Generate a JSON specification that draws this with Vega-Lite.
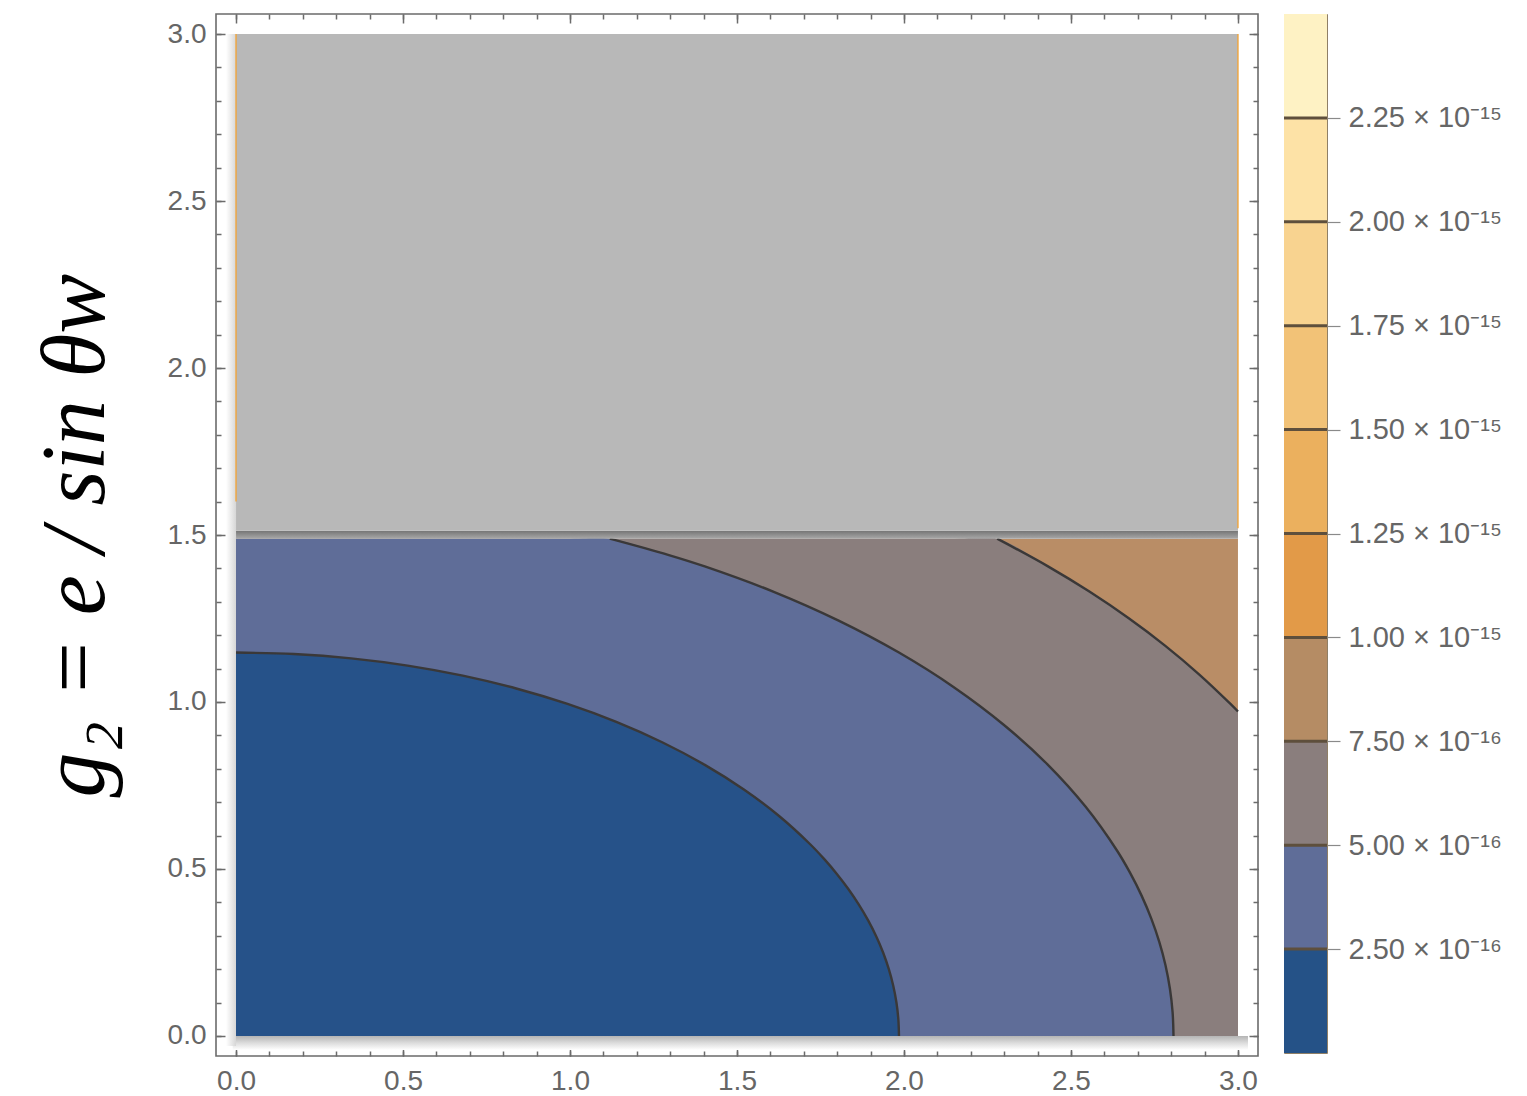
{
  "$schema": "https://vega.github.io/schema/vega-lite/v6.json",
  "background": "white",
  "padding": {"left": 30, "top": 12, "right": 0, "bottom": 0},
  "spacing": 22,
  "config": {
    "font": "Liberation Sans",
    "axis": {"labelFont": "Liberation Sans", "labelFontSize": 28, "labelColor": "#666666", "tickColor": "#6b6b6b", "tickWidth": 1.5, "domain": false, "grid": false}
  },
  "datasets": {
    "rects": [
      {"part": "shadowBottom", "x0": -0.01, "x1": 3.03, "y0": -0.042, "y1": 0},
      {"part": "shadowLeft", "x0": -0.03, "x1": 0, "y0": -0.03, "y1": 3.0},
      {"part": "band3", "x0": 0, "x1": 3, "y0": 0, "y1": 1.489},
      {"part": "gap", "x0": 0, "x1": 3, "y0": 1.489, "y1": 1.513},
      {"part": "missing", "x0": 0, "x1": 3, "y0": 1.513, "y1": 3.0}
    ],
    "edges": [
      {"x": 0, "y0": 1.6, "y1": 3.0},
      {"x": 3, "y0": 1.52, "y1": 3.0}
    ],
    "contours": [
      {"level": 1, "x": 0, "y": 1.148, "on": true},
      {"level": 1, "x": 0.173, "y": 1.1436, "on": true},
      {"level": 1, "x": 0.3447, "y": 1.1306, "on": true},
      {"level": 1, "x": 0.5138, "y": 1.1089, "on": true},
      {"level": 1, "x": 0.6789, "y": 1.0788, "on": true},
      {"level": 1, "x": 0.8389, "y": 1.0404, "on": true},
      {"level": 1, "x": 0.9925, "y": 0.9942, "on": true},
      {"level": 1, "x": 1.1386, "y": 0.9404, "on": true},
      {"level": 1, "x": 1.2759, "y": 0.8794, "on": true},
      {"level": 1, "x": 1.4036, "y": 0.8118, "on": true},
      {"level": 1, "x": 1.5206, "y": 0.7379, "on": true},
      {"level": 1, "x": 1.626, "y": 0.6585, "on": true},
      {"level": 1, "x": 1.7191, "y": 0.574, "on": true},
      {"level": 1, "x": 1.7607, "y": 0.5301, "on": true},
      {"level": 1, "x": 1.799, "y": 0.4852, "on": true},
      {"level": 1, "x": 1.8339, "y": 0.4393, "on": true},
      {"level": 1, "x": 1.8653, "y": 0.3926, "on": true},
      {"level": 1, "x": 1.8931, "y": 0.3452, "on": true},
      {"level": 1, "x": 1.9174, "y": 0.2971, "on": true},
      {"level": 1, "x": 1.938, "y": 0.2485, "on": true},
      {"level": 1, "x": 1.9548, "y": 0.1993, "on": true},
      {"level": 1, "x": 1.968, "y": 0.1498, "on": true},
      {"level": 1, "x": 1.9774, "y": 0.1001, "on": true},
      {"level": 1, "x": 1.9831, "y": 0.0501, "on": true},
      {"level": 1, "x": 1.985, "y": 0, "on": true},
      {"level": 2, "x": 0, "y": 1.489, "on": false},
      {"level": 2, "x": 1.0, "y": 1.489, "on": false},
      {"level": 2, "x": 1.119, "y": 1.489, "on": true},
      {"level": 2, "x": 1.296, "y": 1.44, "on": true},
      {"level": 2, "x": 1.4035, "y": 1.406, "on": true},
      {"level": 2, "x": 1.61, "y": 1.3299, "on": true},
      {"level": 2, "x": 1.8043, "y": 1.2437, "on": true},
      {"level": 2, "x": 1.9849, "y": 1.148, "on": true},
      {"level": 2, "x": 2.1503, "y": 1.0436, "on": true},
      {"level": 2, "x": 2.2994, "y": 0.9312, "on": true},
      {"level": 2, "x": 2.431, "y": 0.8118, "on": true},
      {"level": 2, "x": 2.544, "y": 0.6861, "on": true},
      {"level": 2, "x": 2.6377, "y": 0.5553, "on": true},
      {"level": 2, "x": 2.6771, "y": 0.4882, "on": true},
      {"level": 2, "x": 2.7114, "y": 0.4202, "on": true},
      {"level": 2, "x": 2.7405, "y": 0.3514, "on": true},
      {"level": 2, "x": 2.7644, "y": 0.2819, "on": true},
      {"level": 2, "x": 2.783, "y": 0.2119, "on": true},
      {"level": 2, "x": 2.7963, "y": 0.1415, "on": true},
      {"level": 2, "x": 2.8043, "y": 0.0708, "on": true},
      {"level": 2, "x": 2.807, "y": 0, "on": true},
      {"level": 3, "x": 0, "y": 1.489, "on": false},
      {"level": 3, "x": 2.15, "y": 1.489, "on": false},
      {"level": 3, "x": 2.279, "y": 1.489, "on": true},
      {"level": 3, "x": 2.4312, "y": 1.406, "on": true},
      {"level": 3, "x": 2.5551, "y": 1.3305, "on": true},
      {"level": 3, "x": 2.672, "y": 1.2513, "on": true},
      {"level": 3, "x": 2.7816, "y": 1.1688, "on": true},
      {"level": 3, "x": 2.8835, "y": 1.0829, "on": true},
      {"level": 3, "x": 2.9776, "y": 0.9942, "on": true},
      {"level": 3, "x": 3.0, "y": 0.9715, "on": true}
    ],
    "bands": [
      {"band": 0, "lo": 0, "hi": 2.5e-16},
      {"band": 1, "lo": 2.5e-16, "hi": 5e-16},
      {"band": 2, "lo": 5e-16, "hi": 7.5e-16},
      {"band": 3, "lo": 7.5e-16, "hi": 1e-15},
      {"band": 4, "lo": 1e-15, "hi": 1.25e-15},
      {"band": 5, "lo": 1.25e-15, "hi": 1.5e-15},
      {"band": 6, "lo": 1.5e-15, "hi": 1.75e-15},
      {"band": 7, "lo": 1.75e-15, "hi": 2e-15},
      {"band": 8, "lo": 2e-15, "hi": 2.25e-15},
      {"band": 9, "lo": 2.25e-15, "hi": 2.5e-15}
    ]
  },
  "hconcat": [
    {
      "width": 1042,
      "height": 1042,
      "view": {"stroke": "#6b6b6b", "strokeWidth": 1.6},
      "resolve": {"axis": {"x": "independent", "y": "independent"}},
      "layer": [
        {
          "data": {"name": "rects"},
          "transform": [{"filter": "datum.part === 'shadowBottom'"}],
          "mark": {"type": "rect", "color": {"gradient": "linear", "x1": 0, "y1": 0, "x2": 0, "y2": 1, "stops": [{"offset": 0, "color": "#b4b4b4"}, {"offset": 0.5, "color": "#dcdcdc"}, {"offset": 1, "color": "#ffffff"}]}},
          "encoding": {
            "x": {"field": "x0", "type": "quantitative", "scale": {"domain": [-0.06, 3.06], "nice": false, "zero": false}, "axis": null},
            "x2": {"field": "x1"},
            "y": {"field": "y0", "type": "quantitative", "scale": {"domain": [-0.06, 3.06], "nice": false, "zero": false}, "axis": null},
            "y2": {"field": "y1"}
          }
        },
        {
          "data": {"name": "rects"},
          "transform": [{"filter": "datum.part === 'shadowLeft'"}],
          "mark": {"type": "rect", "color": {"gradient": "linear", "x1": 0, "y1": 0, "x2": 1, "y2": 0, "stops": [{"offset": 0, "color": "#ffffff"}, {"offset": 1, "color": "#d6d6d6"}]}},
          "encoding": {
            "x": {"field": "x0", "type": "quantitative", "axis": null},
            "x2": {"field": "x1"},
            "y": {"field": "y0", "type": "quantitative", "axis": null},
            "y2": {"field": "y1"}
          }
        },
        {
          "data": {"name": "rects"},
          "transform": [{"filter": "datum.part === 'band3'"}],
          "mark": {"type": "rect", "color": "#b98d66"},
          "encoding": {
            "x": {"field": "x0", "type": "quantitative", "axis": {"orient": "bottom", "values": [0, 0.5, 1, 1.5, 2, 2.5, 3], "format": ".1f", "tickSize": -9, "labelPadding": 20, "title": null}},
            "x2": {"field": "x1"},
            "y": {"field": "y0", "type": "quantitative", "axis": {"orient": "left", "values": [0, 0.5, 1, 1.5, 2, 2.5, 3], "format": ".1f", "tickSize": -9, "labelPadding": 19, "title": "g₂ = e / sin θw", "titleFont": "Liberation Serif", "titleFontStyle": "italic", "titleFontWeight": "normal", "titleFontSize": 90, "titleColor": "#000000", "titlePadding": 45}},
            "y2": {"field": "y1"}
          }
        },
        {
          "data": {"name": "contours"},
          "transform": [{"filter": "datum.level === 3"}],
          "mark": {"type": "area", "color": "#8a7e7d", "interpolate": "catmull-rom"},
          "encoding": {
            "x": {"field": "x", "type": "quantitative", "axis": {"orient": "bottom", "values": [0, 0.1, 0.2, 0.3, 0.4, 0.5, 0.6, 0.7, 0.8, 0.9, 1, 1.1, 1.2, 1.3, 1.4, 1.5, 1.6, 1.7, 1.8, 1.9, 2, 2.1, 2.2, 2.3, 2.4, 2.5, 2.6, 2.7, 2.8, 2.9, 3], "tickSize": -5, "labels": false, "title": null}},
            "y": {"field": "y", "type": "quantitative", "axis": {"orient": "left", "values": [0, 0.1, 0.2, 0.3, 0.4, 0.5, 0.6, 0.7, 0.8, 0.9, 1, 1.1, 1.2, 1.3, 1.4, 1.5, 1.6, 1.7, 1.8, 1.9, 2, 2.1, 2.2, 2.3, 2.4, 2.5, 2.6, 2.7, 2.8, 2.9, 3], "tickSize": -5, "labels": false, "title": null}},
            "y2": {"datum": 0}
          }
        },
        {
          "data": {"name": "contours"},
          "transform": [{"filter": "datum.level === 2"}],
          "mark": {"type": "area", "color": "#5f6d98", "interpolate": "catmull-rom"},
          "encoding": {
            "x": {"field": "x", "type": "quantitative", "axis": {"orient": "top", "values": [0, 0.1, 0.2, 0.3, 0.4, 0.5, 0.6, 0.7, 0.8, 0.9, 1, 1.1, 1.2, 1.3, 1.4, 1.5, 1.6, 1.7, 1.8, 1.9, 2, 2.1, 2.2, 2.3, 2.4, 2.5, 2.6, 2.7, 2.8, 2.9, 3], "tickSize": -5, "labels": false, "title": null}},
            "y": {"field": "y", "type": "quantitative", "axis": {"orient": "right", "values": [0, 0.1, 0.2, 0.3, 0.4, 0.5, 0.6, 0.7, 0.8, 0.9, 1, 1.1, 1.2, 1.3, 1.4, 1.5, 1.6, 1.7, 1.8, 1.9, 2, 2.1, 2.2, 2.3, 2.4, 2.5, 2.6, 2.7, 2.8, 2.9, 3], "tickSize": -5, "labels": false, "title": null}},
            "y2": {"datum": 0}
          }
        },
        {
          "data": {"name": "contours"},
          "transform": [{"filter": "datum.level === 1"}],
          "mark": {"type": "area", "color": "#265289", "interpolate": "catmull-rom"},
          "encoding": {
            "x": {"field": "x", "type": "quantitative", "axis": null},
            "y": {"field": "y", "type": "quantitative", "axis": null},
            "y2": {"datum": 0}
          }
        },
        {
          "data": {"name": "contours"},
          "transform": [{"filter": "datum.on"}],
          "mark": {"type": "line", "color": "#3a3838", "strokeWidth": 2.4, "interpolate": "catmull-rom"},
          "encoding": {
            "x": {"field": "x", "type": "quantitative", "axis": null},
            "y": {"field": "y", "type": "quantitative", "axis": null},
            "detail": {"field": "level", "type": "nominal"}
          }
        },
        {
          "data": {"name": "rects"},
          "transform": [{"filter": "datum.part === 'gap'"}],
          "mark": {"type": "rect", "color": {"gradient": "linear", "x1": 0, "y1": 0, "x2": 0, "y2": 1, "stops": [{"offset": 0, "color": "#747474"}, {"offset": 1, "color": "#a8a8a8"}]}},
          "encoding": {
            "x": {"field": "x0", "type": "quantitative", "axis": null},
            "x2": {"field": "x1"},
            "y": {"field": "y0", "type": "quantitative", "axis": null},
            "y2": {"field": "y1"}
          }
        },
        {
          "data": {"name": "rects"},
          "transform": [{"filter": "datum.part === 'missing'"}],
          "mark": {"type": "rect", "color": "#b8b8b8"},
          "encoding": {
            "x": {"field": "x0", "type": "quantitative", "axis": {"orient": "top", "values": [0, 0.5, 1, 1.5, 2, 2.5, 3], "tickSize": -9, "labels": false, "title": null}},
            "x2": {"field": "x1"},
            "y": {"field": "y0", "type": "quantitative", "axis": {"orient": "right", "values": [0, 0.5, 1, 1.5, 2, 2.5, 3], "tickSize": -9, "labels": false, "title": null}},
            "y2": {"field": "y1"}
          }
        },
        {
          "data": {"name": "edges"},
          "mark": {"type": "rule", "color": "#f0a53c", "strokeWidth": 1.4},
          "encoding": {
            "x": {"field": "x", "type": "quantitative", "axis": null},
            "y": {"field": "y0", "type": "quantitative", "axis": null},
            "y2": {"field": "y1"}
          }
        }
      ]
    },
    {
      "width": 43,
      "height": 1039,
      "view": {"stroke": "#8f7f66", "strokeWidth": 1},
      "layer": [
        {
          "data": {"name": "bands"},
          "mark": {"type": "rect"},
          "encoding": {
            "y": {"field": "lo", "type": "quantitative", "scale": {"domain": [0, 2.5e-15], "nice": false, "zero": false}, "axis": {"orient": "right", "values": [2.5e-16, 5e-16, 7.5e-16, 1e-15, 1.25e-15, 1.5e-15, 1.75e-15, 2e-15, 2.25e-15], "tickSize": 13, "tickColor": "#8a8a8a", "tickWidth": 1.2, "labelPadding": 8, "labelFontSize": 29, "title": null, "labelExpr": "datum.value >= 9.9e-16 ? format(datum.value * 1e15, '.2f') + ' × 10⁻¹⁵' : format(datum.value * 1e16, '.2f') + ' × 10⁻¹⁶'"}},
            "y2": {"field": "hi"},
            "color": {"field": "band", "type": "ordinal", "scale": {"domain": [0, 1, 2, 3, 4, 5, 6, 7, 8, 9], "range": ["#255287", "#5f6d98", "#8a7e7d", "#b58c64", "#e29a48", "#ebb05e", "#f2c277", "#f8d390", "#fde2a6", "#fef2c4"]}, "legend": null}
          }
        },
        {
          "data": {"name": "bands"},
          "transform": [{"filter": "datum.lo > 0"}],
          "mark": {"type": "rule", "color": "#5e4f3c", "strokeWidth": 3},
          "encoding": {
            "y": {"field": "lo", "type": "quantitative"}
          }
        }
      ]
    }
  ]
}
